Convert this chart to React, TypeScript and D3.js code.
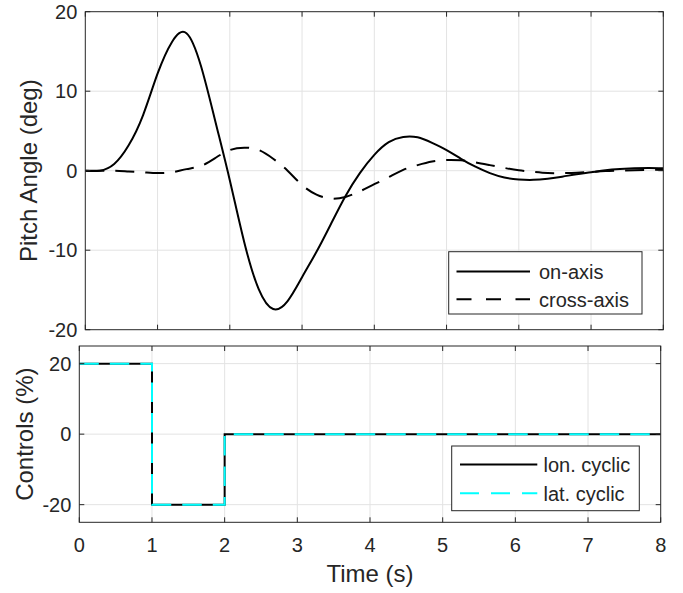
import * as d3 from 'd3'
import { useEffect, useRef } from 'react'

// sample times (s) for the pitch response
const timeSec = [
  0, 0.2, 0.4, 0.6, 0.8, 1.0, 1.2, 1.4, 1.6, 1.8, 2.0, 2.2, 2.4, 2.6, 2.8, 3.0,
  3.2, 3.4, 3.6, 3.8, 4.0, 4.2, 4.4, 4.6, 4.8, 5.0, 5.2, 5.4, 5.6, 5.8, 6.0,
  6.2, 6.4, 6.6, 6.8, 7.0, 7.2, 7.4, 7.6, 7.8, 8.0,
]
const onAxis = [
  0, 0.0, 0.85, 3.2, 7.0, 12.2, 16.2, 17.3, 13.2, 6.2, -1.2, -9.0, -14.9,
  -17.4, -16.4, -13.4, -10.2, -6.7, -3.2, -0.3, 2.0, 3.6, 4.25, 4.2, 3.5, 2.6,
  1.5, 0.5, -0.3, -0.85, -1.1, -1.15, -1.0, -0.75, -0.45, -0.2, 0.05, 0.2, 0.3,
  0.35, 0.3,
]
const crossAxis = [
  0, 0, 0.0, -0.1, -0.2, -0.3, -0.2, 0.2, 0.6, 1.6, 2.6, 2.9, 2.6, 1.5, 0.0,
  -1.8, -3.0, -3.5, -3.3, -2.6, -1.7, -0.8, 0.1, 0.7, 1.15, 1.35, 1.3, 1.05,
  0.7, 0.35, 0.05, -0.15, -0.3, -0.3, -0.25, -0.15, -0.05, 0.0, 0.05, 0.1, 0.1,
]

// control inputs (step doublet)
const controlTime = [0, 1, 1, 2, 2, 8]
const lonCyclic = [20, 20, -20, -20, 0, 0]
const latCyclic = [20, 20, -20, -20, 0, 0]

const xTicks = [0, 1, 2, 3, 4, 5, 6, 7, 8]
const pitchTicks = [-20, -10, 0, 10, 20]
const controlTicks = [-20, 0, 20]

const pitchLegend = ['on-axis', 'cross-axis']
const controlLegend = ['lon. cyclic', 'lat. cyclic']

const FONT = '"Liberation Sans", Arial, Helvetica, sans-serif'
const INK = '#262626'
const GRID = '#e3e3e3'

const App = () => {
  const svgRef = useRef(null)

  useEffect(() => {
    const svg = d3.select(svgRef.current)
    svg.selectAll('*').remove()

    const drawPanel = (opts) => {
      const { left, right, top, bottom, yDomain, yTicks, showXLabels } = opts
      const x = d3.scaleLinear().domain([0, 8]).range([left, right])
      const y = d3.scaleLinear().domain(yDomain).range([bottom, top])
      const g = svg.append('g')

      // grid
      g.selectAll('.vgrid')
        .data(xTicks.filter((t) => t > 0 && t < 8))
        .enter()
        .append('line')
        .attr('x1', (d) => x(d))
        .attr('x2', (d) => x(d))
        .attr('y1', top)
        .attr('y2', bottom)
        .attr('stroke', GRID)
        .attr('stroke-width', 1)
      g.selectAll('.hgrid')
        .data(yTicks.filter((t) => y(t) > top + 1 && y(t) < bottom - 1))
        .enter()
        .append('line')
        .attr('x1', left)
        .attr('x2', right)
        .attr('y1', (d) => y(d))
        .attr('y2', (d) => y(d))
        .attr('stroke', GRID)
        .attr('stroke-width', 1)

      const clipId = 'clip' + Math.round(top)
      svg
        .append('clipPath')
        .attr('id', clipId)
        .append('rect')
        .attr('x', left)
        .attr('y', top - 2)
        .attr('width', right - left)
        .attr('height', bottom - top + 4)

      const plot = g.append('g').attr('clip-path', `url(#${clipId})`)

      // box + ticks
      g.append('rect')
        .attr('x', left)
        .attr('y', top)
        .attr('width', right - left)
        .attr('height', bottom - top)
        .attr('fill', 'none')
        .attr('stroke', INK)
        .attr('stroke-width', 1)

      const tl = 5
      xTicks.forEach((t) => {
        g.append('line')
          .attr('x1', x(t)).attr('x2', x(t))
          .attr('y1', bottom).attr('y2', bottom - tl)
          .attr('stroke', INK)
        g.append('line')
          .attr('x1', x(t)).attr('x2', x(t))
          .attr('y1', top).attr('y2', top + tl)
          .attr('stroke', INK)
      })
      yTicks.forEach((t) => {
        g.append('line')
          .attr('x1', left).attr('x2', left + tl)
          .attr('y1', y(t)).attr('y2', y(t))
          .attr('stroke', INK)
        g.append('line')
          .attr('x1', right).attr('x2', right - tl)
          .attr('y1', y(t)).attr('y2', y(t))
          .attr('stroke', INK)
      })

      // tick labels
      g.selectAll('.ylab')
        .data(yTicks)
        .enter()
        .append('text')
        .attr('x', left - 8)
        .attr('y', (d) => y(d))
        .attr('dy', '0.36em')
        .attr('text-anchor', 'end')
        .attr('font-family', FONT)
        .attr('font-size', 20)
        .attr('fill', INK)
        .text((d) => `${d}`)

      if (showXLabels) {
        g.selectAll('.xlab')
          .data(xTicks)
          .enter()
          .append('text')
          .attr('x', (d) => x(d))
          .attr('y', 552)
          .attr('text-anchor', 'middle')
          .attr('font-family', FONT)
          .attr('font-size', 20)
          .attr('fill', INK)
          .text((d) => `${d}`)
      }

      return { x, y, g, plot }
    }

    const legend = (g, box, items) => {
      g.append('rect')
        .attr('x', box.x)
        .attr('y', box.y)
        .attr('width', box.w)
        .attr('height', box.h)
        .attr('fill', 'white')
        .attr('stroke', INK)
        .attr('stroke-width', 1)
      items.forEach((it, i) => {
        const cy = box.rows[i]
        g.append('line')
          .attr('x1', box.lx1)
          .attr('x2', box.lx2)
          .attr('y1', cy)
          .attr('y2', cy)
          .attr('stroke', it.color)
          .attr('stroke-width', 2)
          .attr('stroke-dasharray', it.dash || null)
        g.append('text')
          .attr('x', box.tx)
          .attr('y', cy)
          .attr('dy', '0.36em')
          .attr('font-family', FONT)
          .attr('font-size', 20)
          .attr('fill', INK)
          .text(it.label)
      })
    }

    // ---- top panel: pitch angle
    const top = drawPanel({
      left: 85.3,
      right: 663.3,
      top: 11.7,
      bottom: 329.7,
      yDomain: [-20, 20],
      yTicks: pitchTicks,
      showXLabels: false,
    })
    const pitchLine = (vals) =>
      d3
        .line()
        .x((d, i) => top.x(timeSec[i]))
        .y((d) => top.y(d))
        .curve(d3.curveNatural)(vals)

    top.plot
      .append('path')
      .attr('d', pitchLine(crossAxis))
      .attr('fill', 'none')
      .attr('stroke', 'black')
      .attr('stroke-width', 2)
      .attr('stroke-dasharray', '19,11')
    top.plot
      .append('path')
      .attr('d', pitchLine(onAxis))
      .attr('fill', 'none')
      .attr('stroke', 'black')
      .attr('stroke-width', 2)

    legend(
      top.g,
      { x: 448.7, y: 251.7, w: 193.3, h: 62.3, lx1: 456.5, lx2: 530, tx: 539, rows: [271.5, 299.3] },
      [
        { label: pitchLegend[0], color: 'black' },
        { label: pitchLegend[1], color: 'black', dash: '15,14.5' },
      ]
    )

    // ---- bottom panel: controls
    const bot = drawPanel({
      left: 79.3,
      right: 660.7,
      top: 346,
      bottom: 522.3,
      yDomain: [-25, 25],
      yTicks: controlTicks,
      showXLabels: true,
    })
    const ctrlLine = (vals) =>
      d3
        .line()
        .x((d, i) => bot.x(controlTime[i]))
        .y((d) => bot.y(d))(vals)

    bot.plot
      .append('path')
      .attr('d', ctrlLine(lonCyclic))
      .attr('fill', 'none')
      .attr('stroke', 'black')
      .attr('stroke-width', 2)
    bot.plot
      .append('path')
      .attr('d', ctrlLine(latCyclic))
      .attr('fill', 'none')
      .attr('stroke', '#00ffff')
      .attr('stroke-width', 2)
      .attr('stroke-dasharray', '19.5,11')

    legend(
      bot.g,
      { x: 451.7, y: 446, w: 187.6, h: 64.7, lx1: 460, lx2: 537.3, tx: 543.5, rows: [464.5, 493.3] },
      [
        { label: controlLegend[0], color: 'black' },
        { label: controlLegend[1], color: '#00ffff', dash: '19,12' },
      ]
    )

    // axis labels
    svg
      .append('text')
      .attr('transform', `translate(36.5,${(11.7 + 329.7) / 2}) rotate(-90)`)
      .attr('text-anchor', 'middle')
      .attr('font-family', FONT)
      .attr('font-size', 24)
      .attr('fill', INK)
      .text('Pitch Angle (deg)')
    svg
      .append('text')
      .attr('transform', `translate(33,${(346 + 522.3) / 2}) rotate(-90)`)
      .attr('text-anchor', 'middle')
      .attr('font-family', FONT)
      .attr('font-size', 24)
      .attr('fill', INK)
      .text('Controls (%)')
    svg
      .append('text')
      .attr('x', (79.3 + 660.7) / 2)
      .attr('y', 581.5)
      .attr('text-anchor', 'middle')
      .attr('font-family', FONT)
      .attr('font-size', 24)
      .attr('fill', INK)
      .text('Time (s)')
  }, [])

  return (
    <svg
      ref={svgRef}
      width="683"
      height="593"
      style={{ position: 'absolute', left: 0, top: 0, background: 'white' }}
    ></svg>
  )
}

export default App
